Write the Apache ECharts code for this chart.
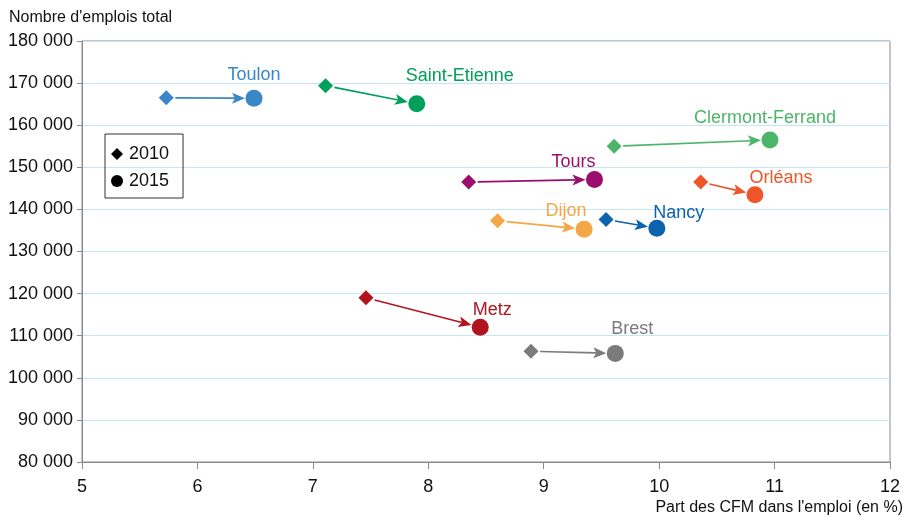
<!DOCTYPE html>
<html>
<head>
<meta charset="utf-8">
<script src="https://cdn.jsdelivr.net/npm/echarts@6/dist/echarts.min.js"></script>
<style>html,body{margin:0;padding:0;background:#fff}#c{width:905px;height:515px}</style>
</head>
<body>
<div id="c"></div>
<script>
var cities = ['Toulon','Saint-Etienne','Clermont-Ferrand','Tours','Orléans','Dijon','Nancy','Metz','Brest'];
var share2010 = [5.73, 7.11, 9.61, 8.35, 10.36, 8.60, 9.54, 7.46, 8.89];
var jobs2010  = [166500, 169400, 155000, 146500, 146500, 137300, 137600, 119000, 106300];
var share2015 = [6.49, 7.90, 10.96, 9.44, 10.83, 9.35, 9.98, 8.45, 9.62];
var jobs2015  = [166400, 165100, 156500, 147100, 143500, 135300, 135500, 112000, 105800];
var xTicks = [5,6,7,8,9,10,11,12];
var yTicks = [80000,90000,100000,110000,120000,130000,140000,150000,160000,170000,180000];

var colors = ['#3a87c8','#00a05a','#4db56a','#9a0f6e','#ee5528','#f5a646','#0b63ad','#b2141e','#7b7b7b'];
var labelOffsets = [[0,-1],[43,-5],[-5,1],[-21,5],[26,6],[-18,4],[22,7],[12,5],[17,-2]];

var font = 'Liberation Sans, Arial, sans-serif';
var chart = echarts.init(document.getElementById('c'), null, {renderer:'canvas'});

var arrowData = cities.map(function(c,i){ return [share2010[i], jobs2010[i], share2015[i], jobs2015[i], i]; });

function fmt(v){ return String(v).replace(/\B(?=(\d{3})+(?!\d))/g, ' '); }

var option = {
  animation: false,
  textStyle: {fontFamily: font},
  grid: {left: 82, right: 15, top: 41, bottom: 53, show: true, borderColor: '#8a8a8a', borderWidth: 1},
  legend: {
    data: [{name:'2010', icon:'diamond'}, {name:'2015', icon:'circle'}],
    orient: 'vertical', left: 105, top: 134,
    itemWidth: 12, itemHeight: 12, itemGap: 9,
    padding: [11, 14, 8, 6],
    borderColor: '#333', borderWidth: 1,
    selectedMode: false,
    textStyle: {fontSize: 18, color: '#111', fontFamily: font, padding: [0,0,0,1]}
  },
  xAxis: {
    type: 'value', min: xTicks[0], max: xTicks[xTicks.length-1], interval: 1,
    axisLine: {lineStyle: {color: '#8a8a8a'}},
    axisTick: {show: true, length: 7, lineStyle: {color: '#8a8a8a'}},
    axisLabel: {fontSize: 18, color: '#111', margin: 16, fontFamily: font},
    splitLine: {show: false}
  },
  yAxis: {
    type: 'value', min: yTicks[0], max: yTicks[yTicks.length-1], interval: 10000,
    axisLine: {show: true, lineStyle: {color: '#8a8a8a'}},
    axisTick: {show: true, length: 5, lineStyle: {color: '#8a8a8a'}},
    axisLabel: {fontSize: 18, color: '#111', margin: 9, fontFamily: font, formatter: fmt},
    splitLine: {show: true, lineStyle: {color: '#c4e6f2', width: 1}}
  },
  graphic: [
    {type:'text', left: 9, top: 10, style:{text:"Nombre d'emplois total", fontSize: 16, fill:'#111', fontFamily: font}},
    {type:'text', right: 2, top: 500, style:{text:"Part des CFM dans l'emploi (en %)", fontSize: 16, fill:'#111', fontFamily: font}}
  ],
  series: [
    {
      type: 'custom', name: 'arrows', z: 2,
      data: arrowData,
      renderItem: function(params, api){
        var p1 = api.coord([api.value(0), api.value(1)]);
        var p2 = api.coord([api.value(2), api.value(3)]);
        var col = colors[api.value(4)];
        var dx = p2[0]-p1[0], dy = p2[1]-p1[1];
        var len = Math.sqrt(dx*dx+dy*dy);
        var ux = dx/len, uy = dy/len;
        var sx = p1[0]+ux*9, sy = p1[1]+uy*9;
        var tx = p2[0]-ux*9, ty = p2[1]-uy*9;
        var bx = tx-ux*13, by = ty-uy*13;
        var px = -uy, py = ux;
        return {type:'group', children:[
          {type:'line', shape:{x1:sx, y1:sy, x2:bx+ux*3, y2:by+uy*3}, style:{stroke:col, lineWidth:1.6}},
          {type:'polygon', shape:{points:[[tx,ty],[bx+px*5.5,by+py*5.5],[bx+ux*3,by+uy*3],[bx-px*5.5,by-py*5.5]]}, style:{fill:col}}
        ]};
      },
      silent: true
    },
    {
      type: 'scatter', name: '2010', symbol: 'diamond', symbolSize: 15, z: 3,
      itemStyle: {color: '#000', opacity: 1},
      data: cities.map(function(c,i){ return {value:[share2010[i], jobs2010[i]], itemStyle:{color: colors[i], opacity: 1}}; })
    },
    {
      type: 'scatter', name: '2015', symbol: 'circle', symbolSize: 17, z: 3,
      itemStyle: {color: '#000', opacity: 1},
      data: cities.map(function(c,i){
        return {value:[share2015[i], jobs2015[i]], name: c, itemStyle:{color: colors[i], opacity: 1},
          label:{show:true, position:'top', distance:5, formatter: c, color: colors[i], fontSize: 18, fontFamily: font, offset: labelOffsets[i]}};
      })
    }
  ]
};
chart.setOption(option);
</script>
</body>
</html>
